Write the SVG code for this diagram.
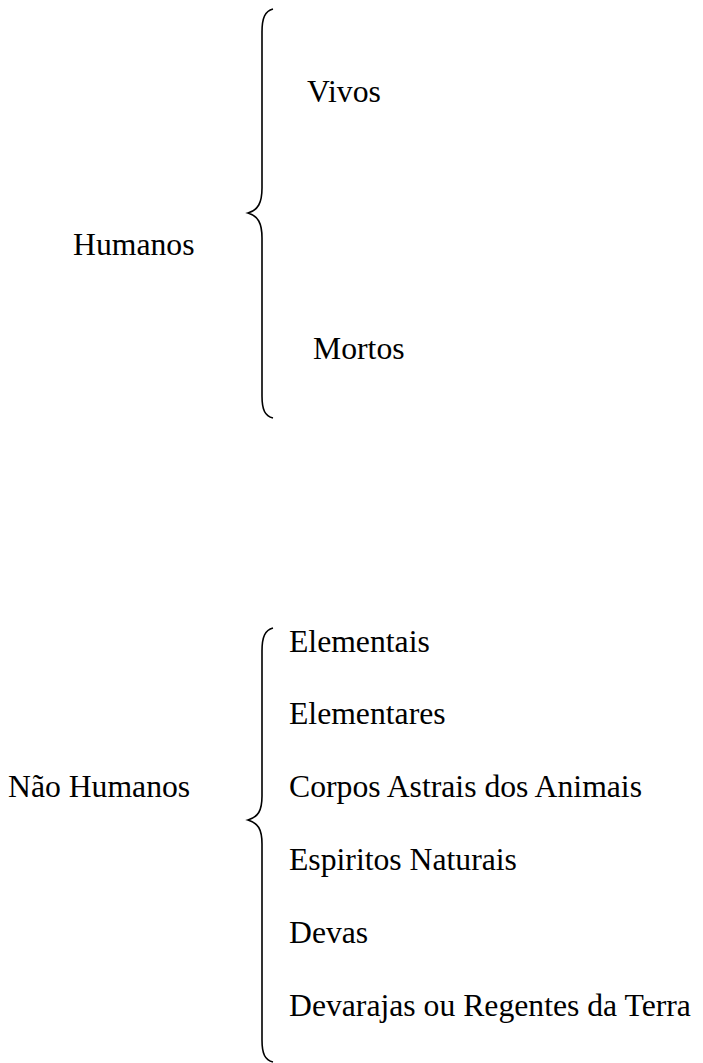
<svg xmlns="http://www.w3.org/2000/svg" width="703" height="1063" viewBox="0 0 703 1063">
<style>
text{font-family:"Liberation Serif","Times New Roman",serif;font-size:31.7px;fill:#000}
.brace{fill:none;stroke:#000;stroke-width:1.6}
</style>
<rect width="703" height="1063" fill="#fff"/>
<g id="connectors">
<path class="brace" d="M273,9 C265,11 262,18 262,32 L262,188 C262,203 258,210 248,213 C258,216 262,223 262,238 L262,396 C262,410 265,416 273,418"/>
<path class="brace" d="M273,628 C265,630 262,637 262,651 L262,796 C262,811 258,817 248,820 C258,823 262,829 262,844 L262,1040 C262,1054 265,1060 273,1062"/>
</g>
<g id="humanos"><text x="73" y="255">Humanos</text></g>
<g id="vivos"><text x="307" y="102">Vivos</text></g>
<g id="mortos"><text x="313" y="359">Mortos</text></g>
<g id="nao-humanos"><text x="8" y="797">Não Humanos</text></g>
<g id="elementais"><text x="289" y="652">Elementais</text></g>
<g id="elementares"><text x="289" y="724">Elementares</text></g>
<g id="corpos"><text x="289" y="797">Corpos Astrais dos Animais</text></g>
<g id="espiritos"><text x="289" y="870">Espiritos Naturais</text></g>
<g id="devas"><text x="289" y="943">Devas</text></g>
<g id="devarajas"><text x="289" y="1016">Devarajas ou Regentes da Terra</text></g>
</svg>
